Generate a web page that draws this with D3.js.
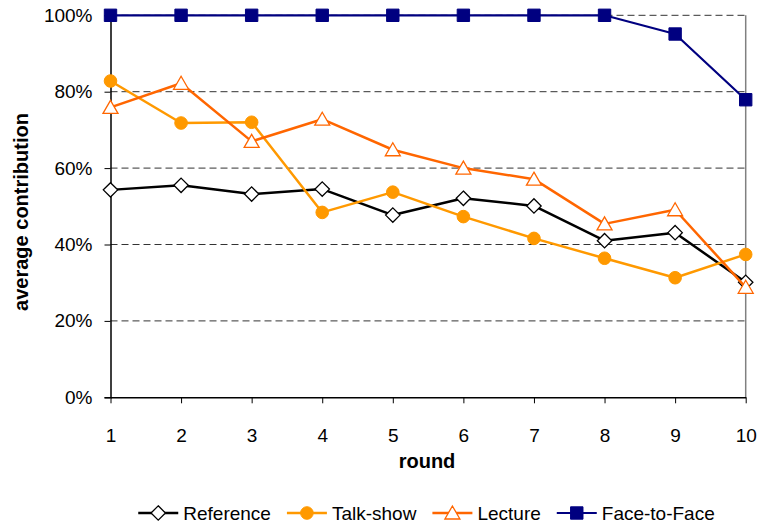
<!DOCTYPE html>
<html>
<head>
<meta charset="utf-8">
<script src="https://cdn.jsdelivr.net/npm/d3@7"></script>
<style>
  html, body { margin: 0; padding: 0; background: #fff; }
  svg { display: block; font-family: "Liberation Sans", Arial, sans-serif; }
</style>
</head>
<body>
<svg id="chart" width="758" height="524"></svg>
<script>
const rounds = [1, 2, 3, 4, 5, 6, 7, 8, 9, 10];
const seriesNames = ["Reference", "Talk-show", "Lecture", "Face-to-Face"];
const reference = [54.3, 55.5, 53.2, 54.5, 47.7, 52.1, 50.1, 41.0, 43.1, 30.1];
const talkShow  = [82.8, 71.8, 72.0, 48.4, 53.7, 47.3, 41.6, 36.4, 31.3, 37.4];
const lecture   = [75.9, 82.2, 67.0, 72.8, 64.8, 60.0, 57.1, 45.4, 49.1, 28.8];
const faceToFace= [100, 100, 100, 100, 100, 100, 100, 100, 95.1, 77.9];
const yTicks = [0, 20, 40, 60, 80, 100];
const colors = ["#000000", "#FF9900", "#FF6600", "#000080"];
const xTitle = "round";
const yTitle = "average contribution";

const allValues = [reference, talkShow, lecture, faceToFace];

const svg = d3.select("#chart");
const pLeft = 110.5, pRight = 745.7, pTop = 15.3, pBottom = 397.3;

const x = d3.scaleLinear().domain([1, 10]).range([pLeft, pRight]);
const y = d3.scaleLinear().domain([0, 100]).range([pBottom, pTop]);

// gridlines
svg.append("g").selectAll("line")
  .data(yTicks.filter(t => t > 0))
  .join("line")
  .attr("x1", pLeft).attr("x2", pRight)
  .attr("y1", d => y(d)).attr("y2", d => y(d))
  .attr("stroke", "#333").attr("stroke-width", 1)
  .attr("stroke-dasharray", "7,4");

// right border
svg.append("line")
  .attr("x1", pRight).attr("x2", pRight)
  .attr("y1", pTop).attr("y2", pBottom)
  .attr("stroke", "#808080").attr("stroke-width", 1.5);

// y axis
const yAxis = d3.axisLeft(y).tickValues(yTicks).tickFormat(d => d + "%").tickSize(6).tickPadding(12);
const gy = svg.append("g").attr("transform", `translate(${pLeft},0)`).call(yAxis);
gy.select(".domain").attr("stroke", "#000").attr("stroke-width", 1.5);
gy.selectAll(".tick line").attr("stroke", "#000").attr("stroke-width", 1);
gy.selectAll(".tick text").attr("font-size", 19).attr("fill", "#000")
  .attr("font-family", "Liberation Sans, Arial, sans-serif");

// x axis
const xAxis = d3.axisBottom(x).tickValues(rounds).tickFormat(d3.format("d")).tickSize(6).tickSizeOuter(0).tickPadding(25);
const gx = svg.append("g").attr("transform", `translate(0,${pBottom})`).call(xAxis);
gx.select(".domain").attr("stroke", "#000").attr("stroke-width", 1.5);
gx.selectAll(".tick line").attr("stroke", "#000").attr("stroke-width", 1);
gx.selectAll(".tick text").attr("font-size", 19).attr("fill", "#000")
  .attr("font-family", "Liberation Sans, Arial, sans-serif");

// titles
svg.append("text")
  .attr("x", 427).attr("y", 468)
  .attr("text-anchor", "middle").attr("font-weight", "bold").attr("font-size", 20)
  .text(xTitle);
svg.append("text")
  .attr("transform", `translate(28,212) rotate(-90)`)
  .attr("text-anchor", "middle").attr("font-weight", "bold").attr("font-size", 20)
  .text(yTitle);

// marker symbols
const diamond = { draw(ctx, size) { const r = 7.2; ctx.moveTo(0, -r); ctx.lineTo(r, 0); ctx.lineTo(0, r); ctx.lineTo(-r, 0); ctx.closePath(); } };
const triangle = { draw(ctx, size) { ctx.moveTo(0, -7); ctx.lineTo(7.5, 6); ctx.lineTo(-7.5, 6); ctx.closePath(); } };
const circle = { draw(ctx, size) { const r = 6.3; ctx.moveTo(r, 0); ctx.arc(0, 0, r, 0, 2 * Math.PI); } };
const square = { draw(ctx, size) { const h = 6.2; ctx.rect(-h, -h, 2 * h, 2 * h); } };
const markerDefs = [
  { type: diamond, fill: "#fff", stroke: "#000", sw: 1.3 },
  { type: circle, fill: "#FF9900", stroke: "#FF9900", sw: 1 },
  { type: triangle, fill: "#fff", stroke: "#FF6600", sw: 1.3 },
  { type: square, fill: "#000080", stroke: "#000080", sw: 1 }
];
const lineWidths = [2.5, 2.5, 2.5, 2.2];

const line = d3.line().x((d, i) => x(rounds[i])).y(d => y(d));

allValues.forEach((vals, si) => {
  const g = svg.append("g");
  g.append("path").datum(vals)
    .attr("d", line).attr("fill", "none")
    .attr("stroke", colors[si]).attr("stroke-width", lineWidths[si])
    .attr("stroke-linejoin", "round");
  const m = markerDefs[si];
  g.selectAll("path.m").data(vals).join("path")
    .attr("class", "m")
    .attr("transform", (d, i) => `translate(${x(rounds[i])},${y(d)})`)
    .attr("d", d3.symbol().type(m.type))
    .attr("fill", m.fill).attr("stroke", m.stroke).attr("stroke-width", m.sw);
});

// legend
const lg = svg.append("g").attr("transform", "translate(0,513)");
let cx = 0;
const gap = 16;
seriesNames.forEach((name, si) => {
  const it = lg.append("g").attr("transform", `translate(${cx},0)`);
  it.append("line").attr("x1", 0).attr("x2", 40).attr("y1", 0).attr("y2", 0)
    .attr("stroke", colors[si]).attr("stroke-width", lineWidths[si]);
  const m = markerDefs[si];
  it.append("path").attr("transform", "translate(20,0)")
    .attr("d", d3.symbol().type(m.type))
    .attr("fill", m.fill).attr("stroke", m.stroke).attr("stroke-width", m.sw);
  const t = it.append("text").attr("x", 45).attr("y", 6.8).attr("font-size", 19).text(name);
  const w = t.node().getComputedTextLength();
  cx += 45 + w + gap;
});
const totalW = cx - gap;
lg.attr("transform", `translate(${(138 + 715) / 2 - totalW / 2},513)`);
</script>
</body>
</html>
